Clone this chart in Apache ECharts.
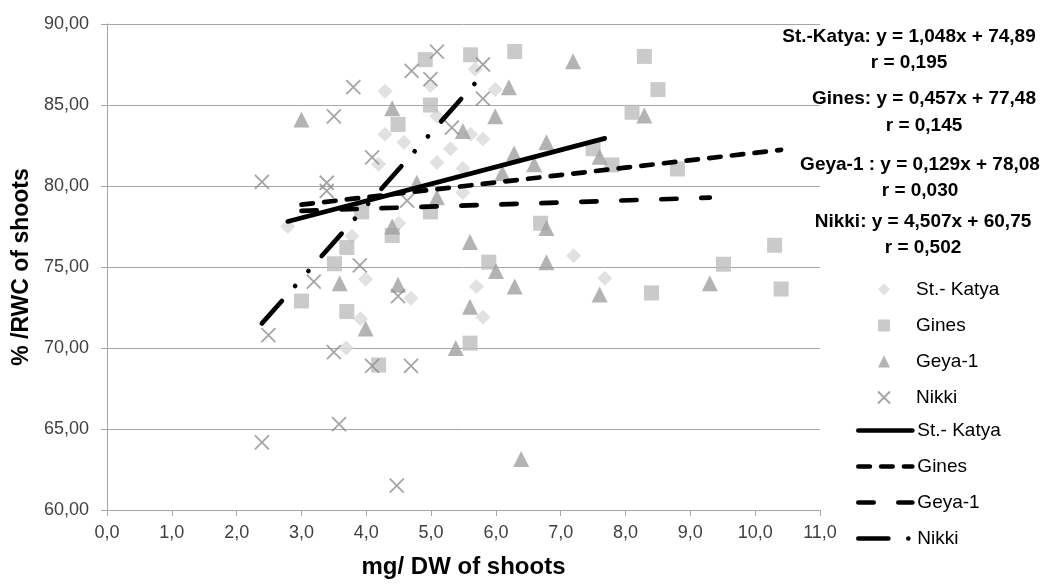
<!DOCTYPE html>
<html>
<head>
<meta charset="utf-8">
<title>RWC vs DW of shoots</title>
<script src="https://cdn.jsdelivr.net/npm/echarts@6/dist/echarts.min.js"></script>
<style>
  html, body { margin: 0; padding: 0; background: #fff; }
  #chart { width: 1045px; height: 584px; }
</style>
</head>
<body>
<div id="chart"></div>
<script>
// values: [mg DW, % RWC]
var katyaPoints = [
  [2.79, 77.5], [3.78, 76.9], [3.99, 74.25], [3.91, 71.8], [3.69, 70.0],
  [4.69, 73.07], [4.50, 77.7], [4.29, 85.85], [4.99, 86.2], [4.29, 83.2],
  [4.58, 82.7], [5.09, 81.45], [4.19, 81.35], [5.09, 84.3], [5.30, 82.3],
  [5.49, 81.1], [5.49, 79.6], [5.61, 83.2], [5.80, 82.9], [5.68, 87.2],
  [5.99, 85.95], [5.70, 73.8], [5.80, 71.9], [7.20, 75.7], [7.68, 74.3]
]
var ginesPoints = [
  [4.91, 87.8], [5.61, 88.1], [6.29, 88.3], [8.29, 88.0], [8.50, 85.95],
  [4.99, 85.0], [4.49, 83.8], [8.10, 84.55], [7.50, 82.3], [7.79, 81.3],
  [8.80, 81.05], [3.93, 78.4], [4.99, 78.4], [4.40, 76.95], [3.70, 76.2],
  [3.51, 75.2], [3.00, 72.9], [3.70, 72.25], [4.19, 68.95], [5.60, 70.3],
  [5.89, 75.3], [6.69, 77.7], [8.40, 73.4], [9.51, 75.17], [10.30, 76.34],
  [10.40, 73.64]
]
var geyaPoints = [
  [3.00, 84.1], [4.40, 84.8], [5.49, 83.4], [5.99, 84.3], [6.20, 86.1],
  [7.19, 87.7], [8.29, 84.35], [6.28, 82.0], [6.78, 82.7], [6.59, 81.35],
  [6.10, 80.8], [7.60, 81.8], [4.78, 80.2], [5.09, 79.3], [4.40, 77.5],
  [6.78, 77.4], [3.59, 74.0], [4.49, 73.9], [3.99, 71.2], [5.60, 76.55],
  [6.78, 75.3], [6.00, 74.75], [6.29, 73.8], [7.60, 73.3], [5.60, 72.55],
  [5.38, 70.0], [6.39, 63.15], [9.30, 74.0]
]
var nikkiPoints = [
  [2.39, 80.25], [3.39, 80.2], [3.39, 79.7], [3.80, 86.1], [3.50, 84.3],
  [4.70, 87.1], [5.09, 88.3], [4.99, 86.6], [5.80, 87.5], [5.80, 85.4],
  [5.32, 83.6], [4.09, 81.76], [4.63, 79.1], [3.90, 75.1], [3.19, 74.1],
  [4.49, 73.2], [2.49, 70.8], [3.50, 69.75], [4.09, 68.9], [4.69, 68.9],
  [2.39, 64.17], [3.58, 65.3], [4.47, 61.5]
]

// trend line ends, as drawn
var katyaTrend = [[2.79, 77.81], [7.68, 82.94]]
var ginesTrend = [[3.00, 78.85], [10.40, 82.23]]
var geyaTrend = [[3.00, 78.47], [9.30, 79.28]]
var nikkiTrend = [[2.39, 71.52], [5.80, 86.89]]

var markerNames = ['St.- Katya', 'Gines', 'Geya-1', 'Nikki']
// trailing space keeps the trend entries apart from the marker entries
var trendNames = ['St.- Katya ', 'Gines ', 'Geya-1 ', 'Nikki ']

var equations = [
  ['St.-Katya: y = 1,048x + 74,89', 'r = 0,195'],
  ['Gines: y = 0,457x + 77,48', 'r = 0,145'],
  ['Geya-1 : y = 0,129x + 78,08', 'r = 0,030'],
  ['Nikki: y = 4,507x + 60,75', 'r = 0,502']
]

var FONT = '"Liberation Sans", Arial, sans-serif'

function comma (v, d) {
  return v.toFixed(d).replace('.', ',')
}

function scatter (name, data, symbol, size, style) {
  return {
    name: name,
    type: 'scatter',
    data: data,
    symbol: symbol,
    symbolSize: size,
    itemStyle: style,
    emphasis: { disabled: true },
    z: 2
  }
}

function trend (name, data, dash) {
  return {
    name: name,
    type: 'line',
    data: data,
    symbol: 'none',
    silent: true,
    itemStyle: { color: '#000', opacity: 0 },
    lineStyle: { color: '#000', width: 4.7, type: dash, cap: 'round' },
    emphasis: { disabled: true },
    z: 5
  }
}

var eqTexts = []
var eqPos = [[909, 37, 63], [924, 99, 126], [920, 165, 191], [923, 222, 248]]
equations.forEach(function (e, i) {
  var p = eqPos[i]
  eqTexts.push({
    type: 'text', x: p[0], y: p[1],
    style: { text: e[0], fill: '#000', font: 'bold 19px ' + FONT, textAlign: 'center', textVerticalAlign: 'middle' }
  })
  eqTexts.push({
    type: 'text', x: p[0], y: p[2],
    style: { text: e[1], fill: '#000', font: 'bold 19px ' + FONT, textAlign: 'center', textVerticalAlign: 'middle' }
  })
})

var legendText = { fontFamily: FONT, fontSize: 19, color: '#000' }

var chart = echarts.init(document.getElementById('chart'), null, { renderer: 'canvas' })
chart.setOption({
  animation: false,
  backgroundColor: '#fff',
  grid: { left: 107, right: 225, top: 24, bottom: 71 },
  legend: [
    {
      orient: 'vertical',
      left: 877,
      top: 280,
      padding: 0,
      itemWidth: 12,
      itemHeight: 12,
      itemGap: 17,
      selectedMode: false,
      textStyle: Object.assign({ padding: [0, 0, 0, 21] }, legendText),
      data: markerNames
    },
    {
      orient: 'vertical',
      left: 856,
      top: 421,
      padding: 0,
      itemWidth: 54,
      itemHeight: 12,
      itemGap: 17,
      selectedMode: false,
      textStyle: legendText,
      lineStyle: { width: 'inherit' },
      data: trendNames
    }
  ],
  xAxis: {
    type: 'value',
    min: 0,
    max: 11,
    interval: 1,
    name: 'mg/ DW of shoots',
    nameLocation: 'middle',
    nameGap: 45,
    nameTextStyle: { fontFamily: FONT, fontSize: 24, fontWeight: 'bold', color: '#000' },
    axisLine: { lineStyle: { color: '#a6a6a6', width: 1 } },
    axisTick: { show: true, length: 6, lineStyle: { color: '#a6a6a6' } },
    axisLabel: { formatter: function (v) { return comma(v, 1) }, fontFamily: FONT, fontSize: 18, color: '#404040', margin: 14 },
    splitLine: { show: false }
  },
  yAxis: {
    type: 'value',
    min: 60,
    max: 90,
    interval: 5,
    name: '% /RWC of shoots',
    nameLocation: 'middle',
    nameGap: 72,
    nameTextStyle: { fontFamily: FONT, fontSize: 23, fontWeight: 'bold', color: '#000' },
    axisLine: { show: true, lineStyle: { color: '#a6a6a6', width: 1 } },
    axisTick: { show: true, length: 6, lineStyle: { color: '#a6a6a6' } },
    axisLabel: { formatter: function (v) { return comma(v, 2) }, fontFamily: FONT, fontSize: 18, color: '#404040', margin: 18 },
    splitLine: { show: true, lineStyle: { color: '#a6a6a6', width: 1 } }
  },
  graphic: eqTexts,
  series: [
    scatter(markerNames[0], katyaPoints, 'diamond', 15, { color: '#d9d9d9' }),
    scatter(markerNames[1], ginesPoints, 'rect', 15, { color: '#bdbdbd' }),
    scatter(markerNames[2], geyaPoints, 'triangle', 16, { color: '#a0a0a0' }),
    scatter(markerNames[3], nikkiPoints, 'path://M0,0L10,10M10,0L0,10', 14,
      { color: 'rgba(0,0,0,0)', borderColor: '#8f8f8f', borderWidth: 1.8 }),
    trend(trendNames[0], katyaTrend, 'solid'),
    trend(trendNames[1], ginesTrend, [11.5, 11.3]),
    trend(trendNames[2], geyaTrend, [15.3, 24.7]),
    trend(trendNames[3], nikkiTrend, [30, 20, 0.01, 20, 0.01, 20])
  ]
})
</script>
</body>
</html>
